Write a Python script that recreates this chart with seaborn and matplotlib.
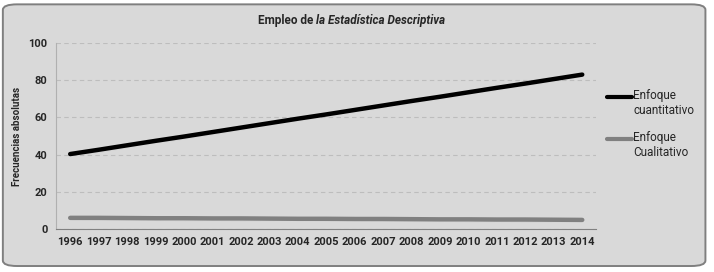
import pandas as pd
import numpy as np
import seaborn as sns
import matplotlib.pyplot as plt
from matplotlib.patches import FancyBboxPatch
from matplotlib.transforms import Affine2D
import matplotlib.patheffects as pe

# data
years = [str(y) for y in range(1996, 2015)]
cuantitativo = [40.3, 42.6, 45.0, 47.4, 49.7, 52.1, 54.5, 56.9, 59.3, 61.6,
                64.0, 66.4, 68.8, 71.1, 73.5, 75.9, 78.2, 80.6, 83.0]
cualitativo = [6.0, 6.0, 5.9, 5.8, 5.8, 5.7, 5.7, 5.6, 5.5, 5.5,
               5.4, 5.4, 5.3, 5.2, 5.2, 5.1, 5.1, 5.0, 4.9]
series_names = ["Enfoque\ncuantitativo", "Enfoque\nCualitativo"]

df = pd.DataFrame({
    "Año": years * 2,
    "Frecuencia": cuantitativo + cualitativo,
    "Serie": [series_names[0]] * len(years) + [series_names[1]] * len(years),
})

sns.set_style("white")
plt.rcParams["font.family"] = ["Roboto", "DejaVu Sans"]

fig = plt.figure(figsize=(7.14, 2.72), dpi=100)
fig.patch.set_facecolor("white")

# rounded chart frame, behind the axes
frame = FancyBboxPatch((0.004, 0.022), 0.984, 0.962, boxstyle="round,pad=0,rounding_size=0.02",
                       transform=fig.transFigure, facecolor="#d9d9d9", edgecolor="#7f7f7f",
                       linewidth=1.4, zorder=-10)
fig.patches.append(frame)

ax = fig.add_axes([0.0784, 0.158, 0.757, 0.684])
ax.set_facecolor("#d9d9d9")

sns.lineplot(data=df, x="Año", y="Frecuencia", hue="Serie", palette=["black", "#808080"],
             linewidth=3.2, ax=ax, sort=False)
for line in ax.lines:
    line.set_path_effects([pe.SimplePatchShadow(offset=(1, -2), shadow_rgbFace="#b0b0b0", alpha=0.6),
                           pe.Normal()])

ax.set_xlim(-0.5, len(years) - 0.5)
ax.set_ylim(0, 100)
ax.set_yticks(range(0, 101, 20))
ax.yaxis.grid(True, linestyle=(0, (4, 3)), color="#bdbdbd", linewidth=0.8)
ax.tick_params(length=0, labelsize=8, pad=6)
for lab in ax.get_xticklabels() + ax.get_yticklabels():
    lab.set_fontweight("bold")
ax.set_xlabel("")
ax.set_ylabel("Frecuencias absolutas", fontsize=7, fontweight="bold", labelpad=5)
for s in ["top", "right"]:
    ax.spines[s].set_visible(False)
ax.spines["left"].set_color("#b0b0b0")
ax.spines["bottom"].set_color("#808080")

leg = ax.legend(loc="center left", bbox_to_anchor=(1.0, 0.60), frameon=False, fontsize=8.5,
                handlelength=2.1, handletextpad=0.1, labelspacing=1.2)
for h in leg.get_lines():
    h.set_linewidth(3)
    h.set_path_effects([])
# handle sits level with the first text line, as in the original
for t in leg.get_texts():
    t.set_transform(t.get_transform() + Affine2D().translate(0, -7))

fig.text(0.443, 0.925, "Empleo de ", ha="right", va="center", fontsize=8.5, fontweight="bold")
fig.text(0.443, 0.925, "la Estadística Descriptiva", ha="left", va="center", fontsize=8.5,
         fontweight="bold", style="italic")

fig.savefig("out.png", dpi=100)
